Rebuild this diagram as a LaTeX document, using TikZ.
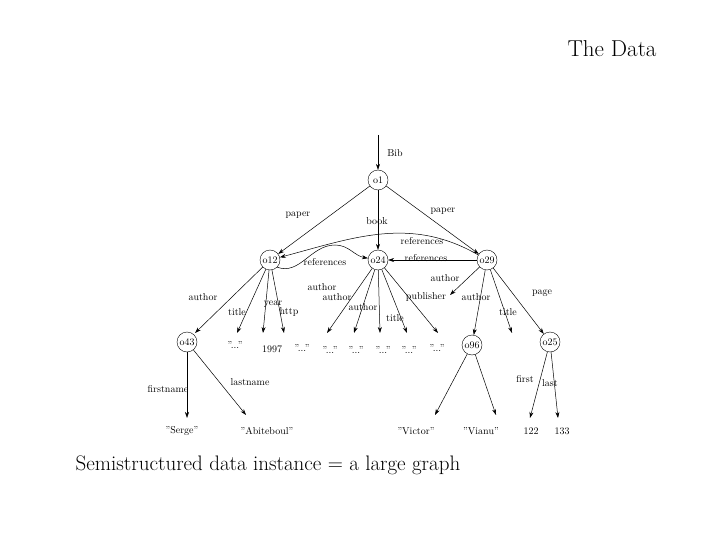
\documentclass[tikz,border=0pt]{standalone}
\usetikzlibrary{arrows.meta}
\begin{document}
\begin{tikzpicture}[x=1pt,y=-1pt,
  obj/.style={circle,draw,inner sep=0pt,minimum size=20pt,font=\fontsize{10}{10}\selectfont},
  lab/.style={font=\fontsize{10}{10}\selectfont,inner sep=1pt},
  leaf/.style={font=\fontsize{10}{10}\selectfont,inner sep=1pt},
  e/.style={-{Stealth[length=6pt,width=4pt]},line width=0.5pt}]
\useasboundingbox (0,0) rectangle (720,540);
\node[font=\fontsize{23}{23}\selectfont] (title) at (612,49) {The Data};
\node[font=\fontsize{21}{21}\selectfont] (cap) at (268,465) {Semistructured data instance = a large graph};
\node[obj] (o1) at (378,180) {o1};
\node[obj] (o12) at (270,260) {o12};
\node[obj] (o24) at (378,260) {o24};
\node[obj] (o29) at (487,260) {o29};
\node[obj] (o43) at (187,342) {o43};
\node[obj] (o96) at (472,345) {o96};
\node[obj] (o25) at (550,342) {o25};
\coordinate (top) at (378,135);
\coordinate (dang) at (450,295);
\node[leaf] (t1) at (235,345) {"..."};
\node[leaf] (y1) at (272,349) {1997};
\node[leaf] (h1) at (302,348) {"..."};
\node[leaf] (a1) at (330,350) {"..."};
\node[leaf] (a2) at (356,350) {"..."};
\node[leaf] (a3) at (383,350) {"..."};
\node[leaf] (a4) at (409,350) {"..."};
\node[leaf] (a5) at (437,348) {"..."};
\node[leaf] (t29) at (512,338) {};
\node[leaf] (serge) at (182,431) {"Serge"};
\node[leaf] (abi) at (267,431) {"Abiteboul"};
\node[leaf] (vic) at (416,431) {"Victor"};
\node[leaf] (via) at (481,431) {"Vianu"};
\node[leaf] (n122) at (531,431) {122};
\node[leaf] (n133) at (562,431) {133};
\draw[e] (top) -- (o1);
\draw[e] (o1) -- (o12);
\draw[e] (o1) -- (o24);
\draw[e] (o1) -- (o29);
\draw[e] (o29) to[out=150,in=15] (o12);
\draw[e] (o12.south east) to[out=-20,in=180] (335,245) to[out=0,in=170] (o24);
\draw[e] (o29) -- (o24);
\draw[e] (o12) -- (195,333);
\draw[e] (o12) -- (237,333);
\draw[e] (o12) -- (263,333);
\draw[e] (o12) -- (284,333);
\draw[e] (o24) -- (327,333);
\draw[e] (o24) -- (354,333);
\draw[e] (o24) -- (380,333);
\draw[e] (o24) -- (407,333);
\draw[e] (o24) -- (438,333);
\draw[e] (o29) -- (dang);
\draw[e] (o29) -- (o96);
\draw[e] (o29) -- (512,333);
\draw[e] (o29) -- (o25);
\draw[e] (o43) -- (187,418);
\draw[e] (o43) -- (246,415);
\draw[e] (o96) -- (435,415);
\draw[e] (o96) -- (496,415);
\draw[e] (o25) -- (530,418);
\draw[e] (o25) -- (558,418);
\node[lab] at (395,153) {Bib};
\node[lab] at (298,215) {paper};
\node[lab] at (377,221) {book};
\node[lab] at (443,211) {paper};
\node[lab] at (422,241) {references};
\node[lab] at (325,262) {references};
\node[lab] at (426,258) {references};
\node[lab] at (445,278) {author};
\node[lab] at (203,297) {author};
\node[lab] at (237,312) {title};
\node[lab] at (273,304) {year};
\node[lab] at (289,312) {http};
\node[lab] at (322,287) {author};
\node[lab] at (337,297) {author};
\node[lab] at (363,307) {author};
\node[lab] at (426,297) {publisher};
\node[lab] at (395,318) {title};
\node[lab] at (476,297) {author};
\node[lab] at (508,312) {title};
\node[lab] at (542,293) {page};
\node[lab] at (168,389) {firstname};
\node[lab] at (250,382) {lastname};
\node[lab] at (525,379) {first};
\node[lab] at (550,383) {last};
\end{tikzpicture}
\end{document}
